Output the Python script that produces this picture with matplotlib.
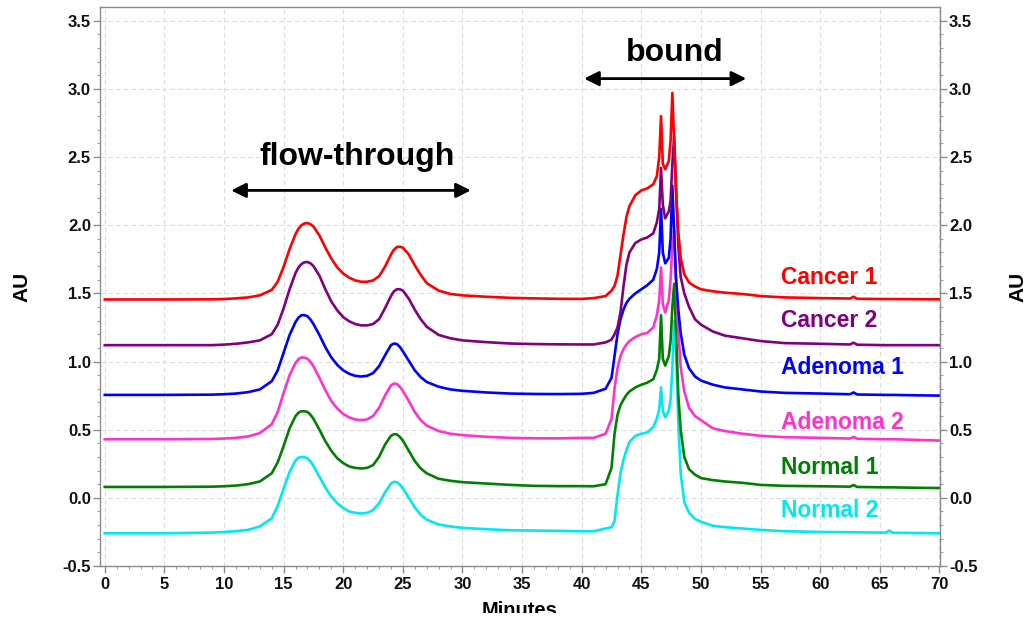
import numpy as np
import matplotlib
matplotlib.use('Agg')
import matplotlib.pyplot as plt

# retention time grid (min)
t = [0, 5, 9, 10, 11, 12, 13, 14, 14.5, 15, 15.5,
     16, 16.25, 16.5, 16.75, 17, 17.25, 17.5, 18, 18.5, 19, 19.5, 20,
     20.5, 21, 21.5, 22, 22.5, 23, 23.5, 24, 24.25, 24.5, 24.75, 25, 25.5, 26, 26.5, 27,
     28, 29, 30, 32, 34, 36, 38, 40, 41, 42,
     42.5, 42.75, 43, 43.25, 43.5, 43.75, 44, 44.5, 45, 45.5, 46,
     46.3, 46.5, 46.65, 46.8, 47.0, 47.3, 47.45, 47.6, 47.75, 47.9, 48.1, 48.3, 48.6, 49.0, 49.5, 50,
     51, 52, 53.5, 55, 57, 60, 62.5, 62.8, 63.1, 65.5, 65.8, 66.1, 68, 70]

cancer1 = [1.455, 1.455, 1.456, 1.458, 1.463, 1.47, 1.485, 1.525, 1.585, 1.695, 1.825,
           1.935, 1.975, 2.0, 2.013, 2.015, 2.007, 1.99, 1.925, 1.835, 1.755, 1.69, 1.645,
           1.615, 1.595, 1.585, 1.585, 1.595, 1.625, 1.695, 1.785, 1.82, 1.84, 1.842, 1.835, 1.785, 1.705, 1.635, 1.575,
           1.52, 1.495, 1.485, 1.475, 1.467, 1.463, 1.46, 1.459, 1.465, 1.48,
           1.52, 1.555, 1.63, 1.78, 1.93, 2.06, 2.14, 2.22, 2.255, 2.27, 2.30,
           2.36, 2.50, 2.80, 2.45, 2.41, 2.47, 2.62, 2.97, 2.62, 2.25, 1.95, 1.76, 1.64, 1.58, 1.55, 1.53,
           1.515, 1.505, 1.495, 1.48, 1.47, 1.465, 1.462, 1.475, 1.46, 1.458, 1.458, 1.458, 1.457, 1.456]
cancer2 = [1.12, 1.12, 1.12, 1.124, 1.13, 1.14, 1.155, 1.2, 1.27, 1.39, 1.53,
           1.65, 1.69, 1.715, 1.728, 1.73, 1.72, 1.70, 1.63, 1.53, 1.44, 1.375, 1.325,
           1.295, 1.275, 1.265, 1.265, 1.275, 1.31, 1.39, 1.48, 1.515, 1.53, 1.53, 1.52, 1.46, 1.38, 1.31, 1.255,
           1.195, 1.17, 1.155, 1.142, 1.132, 1.128, 1.126, 1.125, 1.125, 1.14,
           1.16, 1.20, 1.25, 1.36, 1.55, 1.71, 1.80, 1.87, 1.895, 1.91, 1.94,
           2.02, 2.12, 2.42, 2.15, 2.05, 2.10, 2.18, 2.45, 2.65, 2.30, 1.85, 1.62, 1.50, 1.40, 1.31, 1.27,
           1.22, 1.19, 1.17, 1.15, 1.135, 1.13, 1.125, 1.138, 1.123, 1.12, 1.12, 1.12, 1.12, 1.12]
adenoma1 = [0.755, 0.755, 0.757, 0.76, 0.765, 0.775, 0.795, 0.855, 0.935, 1.065, 1.195,
            1.29, 1.323, 1.34, 1.34, 1.332, 1.308, 1.275, 1.195, 1.105, 1.03, 0.975, 0.935,
            0.91, 0.895, 0.89, 0.895, 0.915, 0.965, 1.045, 1.12, 1.132, 1.128, 1.107, 1.075, 1.005, 0.935, 0.885, 0.85,
            0.815, 0.795, 0.785, 0.773, 0.765, 0.762, 0.761, 0.763, 0.77, 0.80,
            0.88, 1.04, 1.20, 1.31, 1.38, 1.43, 1.46, 1.50, 1.53, 1.56, 1.60,
            1.68, 1.80, 2.12, 1.80, 1.72, 1.76, 1.90, 2.29, 1.95, 1.62, 1.38, 1.21, 1.05, 0.95, 0.89, 0.86,
            0.83, 0.81, 0.795, 0.78, 0.77, 0.765, 0.76, 0.773, 0.758, 0.755, 0.755, 0.755, 0.752, 0.75]
adenoma2 = [0.43, 0.43, 0.432, 0.435, 0.44, 0.45, 0.475, 0.54, 0.63, 0.77, 0.9,
            0.99, 1.018, 1.03, 1.028, 1.02, 0.997, 0.965, 0.88, 0.79, 0.71, 0.655, 0.615,
            0.59, 0.575, 0.57, 0.575, 0.6, 0.66, 0.75, 0.825, 0.838, 0.835, 0.815, 0.785, 0.71, 0.63, 0.57, 0.53,
            0.49, 0.47, 0.46, 0.448, 0.44, 0.437, 0.436, 0.44, 0.44, 0.47,
            0.58, 0.80, 0.95, 1.04, 1.09, 1.125, 1.15, 1.18, 1.20, 1.21, 1.25,
            1.34, 1.45, 1.69, 1.42, 1.36, 1.45, 1.60, 1.85, 1.96, 1.60, 1.22, 0.96, 0.78, 0.66, 0.60, 0.57,
            0.51, 0.49, 0.47, 0.455, 0.445, 0.44, 0.435, 0.447, 0.433, 0.43, 0.43, 0.43, 0.425, 0.42]
normal1 = [0.08, 0.08, 0.082, 0.085, 0.09, 0.1, 0.12, 0.18, 0.26, 0.38, 0.51,
           0.6, 0.625, 0.635, 0.635, 0.63, 0.61, 0.58, 0.5, 0.415, 0.345, 0.29, 0.255,
           0.23, 0.22, 0.215, 0.22, 0.24, 0.3, 0.39, 0.455, 0.467, 0.465, 0.447, 0.42, 0.345, 0.27, 0.215, 0.18,
           0.14, 0.125, 0.115, 0.105, 0.095, 0.088, 0.086, 0.086, 0.085, 0.10,
           0.22, 0.47, 0.61, 0.68, 0.72, 0.755, 0.78, 0.81, 0.83, 0.845, 0.87,
           0.94, 1.02, 1.34, 1.02, 0.97, 1.04, 1.15, 1.40, 1.57, 1.25, 0.75, 0.50, 0.30, 0.21, 0.17, 0.145,
           0.13, 0.12, 0.11, 0.095, 0.088, 0.085, 0.082, 0.094, 0.08, 0.077, 0.077, 0.077, 0.074, 0.072]
normal2 = [-0.26, -0.26, -0.255, -0.25, -0.245, -0.235, -0.21, -0.15, -0.06, 0.07, 0.19,
           0.275, 0.294, 0.30, 0.298, 0.29, 0.267, 0.235, 0.155, 0.075, 0.01, -0.04, -0.075,
           -0.1, -0.11, -0.115, -0.11, -0.09, -0.04, 0.04, 0.105, 0.117, 0.115, 0.097, 0.07, 0.0, -0.07, -0.125, -0.16,
           -0.195, -0.21, -0.22, -0.23, -0.238, -0.24, -0.242, -0.245, -0.245, -0.225,
           -0.215, -0.17, 0.02, 0.18, 0.28, 0.35, 0.41, 0.455, 0.47, 0.48, 0.52,
           0.58, 0.65, 0.81, 0.64, 0.59, 0.64, 0.72, 0.95, 1.30, 1.10, 0.55, 0.18, -0.03, -0.11, -0.155, -0.175,
           -0.205, -0.215, -0.225, -0.235, -0.245, -0.25, -0.252, -0.252, -0.253, -0.255, -0.24, -0.256, -0.258, -0.26]

names = ['Cancer 1', 'Cancer 2', 'Adenoma 1', 'Adenoma 2', 'Normal 1', 'Normal 2']
colors = ['#ff0000', '#800080', '#0000ff', '#ff33cc', '#008000', '#00e8f0']
series = [cancer1, cancer2, adenoma1, adenoma2, normal1, normal2]
label_y = [1.617, 1.302, 0.958, 0.555, 0.225, -0.09]

plt.rcParams['font.family'] = ['Liberation Sans', 'DejaVu Sans']
plt.rcParams['font.weight'] = 'bold'

fig = plt.figure(figsize=(10.32, 6.22), dpi=100)
ax = fig.add_axes([0.0969, 0.090, 0.814, 0.8987])

# bottom trace first so the upper ones sit on top
for y, c in zip(series[::-1], colors[::-1]):
    ax.plot(t, y, color=c, lw=1.9, solid_joinstyle='round')

for name, c, ly in zip(names, colors, label_y):
    ax.text(56.7, ly, name, color=c, fontsize=16.5, fontweight='bold', va='center', ha='left')

# range arrows
ax.annotate('', xy=(10.6, 2.255), xytext=(30.7, 2.255),
            arrowprops=dict(arrowstyle='<|-|>', color='black', lw=2, mutation_scale=22, shrinkA=0, shrinkB=0))
ax.text(21.2, 2.5, 'flow-through', fontsize=23, fontweight='bold', ha='center', va='center')
ax.annotate('', xy=(40.2, 3.075), xytext=(53.8, 3.075),
            arrowprops=dict(arrowstyle='<|-|>', color='black', lw=2, mutation_scale=22, shrinkA=0, shrinkB=0))
ax.text(47.8, 3.266, 'bound', fontsize=23, fontweight='bold', ha='center', va='center')

ax.set_xlim(-0.4, 70.05)
ax.set_ylim(-0.5, 3.6)
ax.set_xticks(np.arange(0, 71, 5))
ax.set_xticks(np.arange(0, 71, 1), minor=True)
ax.set_yticks(np.arange(-0.5, 3.6, 0.5))
ax.set_yticks(np.arange(-0.5, 3.55, 0.1), minor=True)
ax.set_yticklabels([f'{v:.1f}' for v in np.arange(-0.5, 3.6, 0.5)])
ax.grid(True, which='major', color='#dcdcdc', linestyle=(0, (4, 3)), lw=0.8)
ax.set_axisbelow(True)

for s in ax.spines.values():
    s.set_color('#8c8c8c')
    s.set_linewidth(1)
ax.tick_params(which='major', direction='out', length=5, width=1, color='#8c8c8c',
               labelsize=12, labelcolor='#111111', pad=1.5, right=True, labelright=True)
ax.tick_params(axis='x', which='major', pad=3)
ax.tick_params(which='minor', direction='out', length=2.5, width=0.8, color='#a0a0a0', right=True)
for lab in ax.get_xticklabels() + ax.get_yticklabels():
    lab.set_fontweight('bold')

fig.text(22 / 1032, 0.5386, 'AU', rotation=90, fontsize=15, fontweight='bold', ha='center', va='center')
fig.text(1018 / 1032, 0.5386, 'AU', rotation=90, fontsize=15, fontweight='bold', ha='center', va='center')
fig.text(520 / 1032, 6 / 622, 'Minutes', fontsize=14.5, fontweight='bold', ha='center', va='baseline')
# the source image is cut just below the top of the axis title
fig.patches.append(plt.Rectangle((0, 0), 1, 9 / 622, transform=fig.transFigure,
                                 facecolor='white', edgecolor='none', zorder=10))

fig.savefig('out.png', dpi=100)
